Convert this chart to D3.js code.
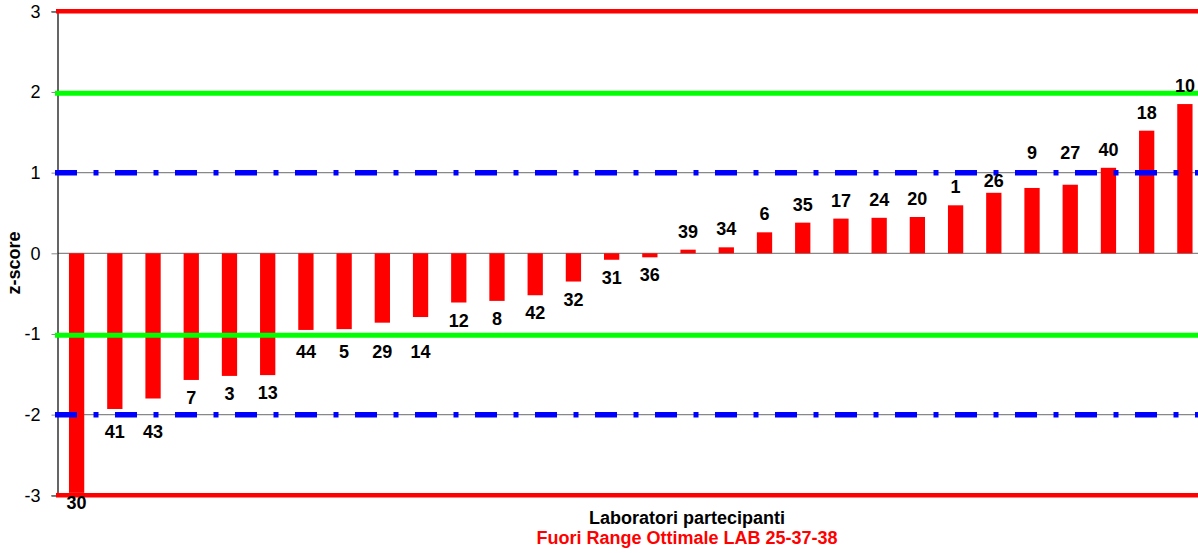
<!DOCTYPE html>
<html><head><meta charset="utf-8">
<script src="https://cdn.jsdelivr.net/npm/d3@7"></script>
<style>body{margin:0;background:#fff;}svg{display:block;font-family:Arial,"Liberation Sans",sans-serif;}</style>
</head><body><svg id="c" width="1198" height="553"></svg>
<script>
const labs = ["30","41","43","7","3","13","44","5","29","14","12","8","42","32","31","36","39","34","6","35","17","24","20","1","26","9","27","40","18","10"];
const zscores = [-2.97,-1.93,-1.80,-1.57,-1.52,-1.51,-0.95,-0.94,-0.86,-0.79,-0.61,-0.59,-0.52,-0.35,-0.08,-0.05,0.045,0.074,0.26,0.38,0.43,0.44,0.45,0.595,0.75,0.81,0.85,1.06,1.52,1.85];
const yTicks = [-3,-2,-1,0,1,2,3];
const redLimits = [3,-3];
const greenLimits = [2,-1];
const blueLimits = [1,-2];
const xTitle = "Laboratori partecipanti";
const subTitle = "Fuori Range Ottimale LAB 25-37-38";
const yTitle = "z-score";

const FONT = "Arial, 'Liberation Sans', sans-serif";
const svg = d3.select("#c");
const L = 57.5, R = 1204, T = 11.3, B = 495.3;
const x = d3.scaleBand().domain(labs).range([L, R]).paddingInner(0.6).paddingOuter(0.3);
const y = d3.scaleLinear().domain([-3, 3]).range([B, T]);

// gridlines
svg.append("g").selectAll("line").data(yTicks).join("line")
  .attr("x1", L).attr("x2", R).attr("y1", d => y(d)).attr("y2", d => y(d))
  .attr("stroke", "#888").attr("stroke-width", 1.2);

// bars
svg.append("g").selectAll("rect").data(zscores).join("rect")
  .attr("x", (d, i) => x(labs[i]))
  .attr("width", x.bandwidth())
  .attr("y", d => y(Math.max(0, d)))
  .attr("height", d => Math.abs(y(d) - y(0)))
  .attr("fill", "#ff0000");

// y axis
const ax = svg.append("g").attr("transform", `translate(${L},0)`)
  .call(d3.axisLeft(y).tickValues(yTicks).tickSize(6).tickPadding(11).tickFormat(d => String(d)));
ax.select(".domain").attr("stroke", "#000").attr("stroke-width", 1.2);
ax.selectAll(".tick line").attr("stroke", "#888");
ax.selectAll(".tick text").attr("font-size", 18).attr("fill", "#000").attr("font-family", FONT);

// reference lines
const greenY = d => y(d) + 1.2;
svg.append("g").selectAll("line").data(redLimits).join("line")
  .attr("x1", 56).attr("x2", R).attr("y1", d => y(d)).attr("y2", d => y(d))
  .attr("stroke", "#ff0000").attr("stroke-width", 4.5);
svg.append("g").selectAll("line").data(greenLimits).join("line")
  .attr("x1", 55).attr("x2", R).attr("y1", greenY).attr("y2", greenY)
  .attr("stroke", "#00ff00").attr("stroke-width", 5);
svg.append("g").selectAll("line").data(blueLimits).join("line")
  .attr("x1", 55).attr("x2", R).attr("y1", d => y(d)).attr("y2", d => y(d))
  .attr("stroke", "#0000ff").attr("stroke-width", 5.5)
  .attr("stroke-dasharray", "22,16.5,5,16.5");

// data labels: placed outside the bar end, moved off the limit lines they would cross
const CAP = 12.9;
const avoidLines = greenLimits.map(greenY).concat(blueLimits.map(d => y(d)));
function labelBaseline(d) {
  const end = y(d);
  let b = d < 0 ? end + 24 : end - 12;
  for (const l of avoidLines) {
    const hit = b > l - 0.5 && (b - CAP) < l + 7.5;
    if (!hit) continue;
    if (d < 0) { b = l + 23; }
    else {
      const below = l + 14;
      b = below <= end - 4 ? below : l - 14;
    }
  }
  return Math.min(b, 509);
}
svg.append("g").selectAll("text").data(zscores).join("text")
  .attr("x", (d, i) => x(labs[i]) + x.bandwidth() / 2)
  .attr("y", labelBaseline)
  .attr("text-anchor", "middle")
  .attr("font-size", 18).attr("font-weight", "bold").attr("fill", "#000")
  .text((d, i) => labs[i]);

// titles
svg.append("text").attr("x", 687).attr("y", 524).attr("text-anchor", "middle")
  .attr("font-size", 18).attr("font-weight", "bold").attr("fill", "#000").text(xTitle);
svg.append("text").attr("x", 687).attr("y", 544).attr("text-anchor", "middle")
  .attr("font-size", 18).attr("font-weight", "bold").attr("fill", "#ff0000").text(subTitle);
svg.append("text").attr("transform", "translate(20,263) rotate(-90)").attr("text-anchor", "middle")
  .attr("font-size", 18).attr("font-weight", "bold").attr("fill", "#000").text(yTitle);
</script></body></html>
